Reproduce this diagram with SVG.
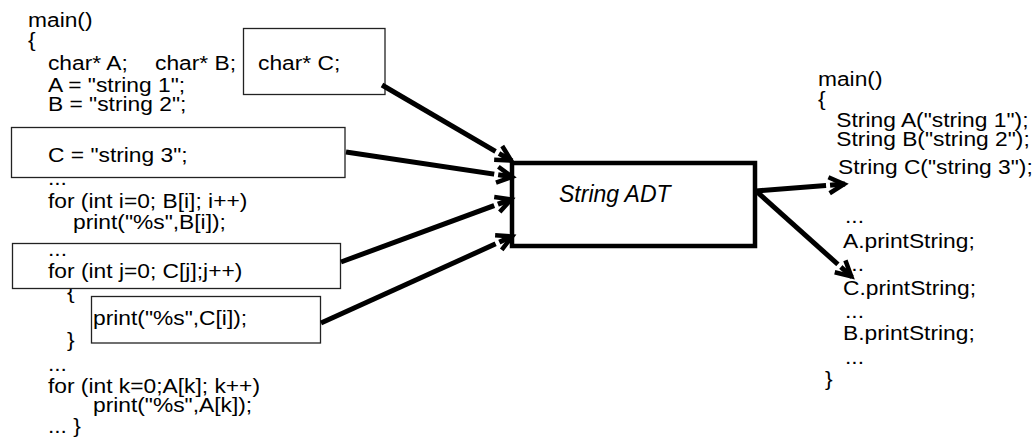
<svg xmlns="http://www.w3.org/2000/svg" width="1036" height="447" viewBox="0 0 1036 447">
<style>
.code{font-family:"Liberation Sans",Arial,Helvetica,sans-serif;font-size:21px;fill:#000}
.box{fill:#fff;stroke:#222;stroke-width:1.3}
.adt{fill:#fff;stroke:#000;stroke-width:4.5}
.title{font-family:"Liberation Sans",Arial,Helvetica,sans-serif;font-size:23px;font-style:italic;fill:#000}
.conn{stroke:#000;stroke-width:5;fill:none;marker-end:url(#arr)}
</style>
<defs>
<marker id="arr" viewBox="0 0 26 24" refX="21" refY="12" markerWidth="26" markerHeight="24" orient="auto" markerUnits="userSpaceOnUse" overflow="visible">
<line x1="2" y1="12" x2="6" y2="12" stroke="#fff" stroke-width="6.5"/>
<path d="M5,4 L20,12 L5,20" fill="none" stroke="#000" stroke-width="4.5"/>
</marker>
</defs>
<rect width="1036" height="447" fill="#fff"/>
<g id="main-c">
<g transform="scale(1.085,1)" class="code">
<text x="25.8" y="27">main()</text>
<text x="25.8" y="47">{</text>
<text x="44.2" y="70">char* A;</text>
<text x="142.9" y="70">char* B;</text>
<text x="44.2" y="92">A = "string 1";</text>
<text x="44.2" y="111">B = "string 2";</text>
<text x="44.2" y="185">...</text>
<text x="44.2" y="208">for (int i=0; B[i]; i++)</text>
<text x="67.3" y="229">print("%s",B[i]);</text>
<text x="61.8" y="299">{</text>
<text x="61.8" y="347">}</text>
<text x="44.2" y="371">...</text>
<text x="44.2" y="393">for (int k=0;A[k]; k++)</text>
<text x="85.7" y="412">print("%s",A[k]);</text>
<text x="44.2" y="433">... }</text>
</g>
</g>
<g id="decl-c">
<rect class="box" x="243.5" y="28.5" width="141.5" height="66"/>
<text class="code" transform="translate(258,70) scale(1.085,1)">char* C;</text>
</g>
<g id="assign-c">
<rect class="box" x="11.5" y="127.5" width="333.5" height="50"/>
<text class="code" transform="translate(48,162) scale(1.085,1)">C = "string 3";</text>
</g>
<g id="loop-c">
<rect class="box" x="12.5" y="243.5" width="328" height="45"/>
<text class="code" transform="translate(48,256) scale(1.085,1)">...</text>
<text class="code" transform="translate(48,278) scale(1.085,1)">for (int j=0; C[j];j++)</text>
</g>
<g id="print-c">
<rect class="box" x="91.5" y="296.5" width="229" height="46.5"/>
<text class="code" transform="translate(93,325) scale(1.085,1)">print("%s",C[i]);</text>
</g>
<g id="string-adt">
<rect class="adt" x="512" y="163" width="243" height="83"/>
<text class="title" x="559" y="202">String ADT</text>
</g>
<g id="main-cpp">
<g transform="scale(1.085,1)" class="code">
<text x="753.9" y="86">main()</text>
<text x="753.9" y="106">{</text>
<text x="770.8" y="127.5">String A("string 1");</text>
<text x="770.8" y="146">String B("string 2");</text>
<text x="772.4" y="174">String C("string 3");</text>
<text x="778.8" y="223">...</text>
<text x="777" y="248">A.printString;</text>
<text x="778.8" y="271">...</text>
<text x="777" y="295">C.printString;</text>
<text x="778.8" y="318">...</text>
<text x="777" y="340">B.printString;</text>
<text x="778.8" y="364">...</text>
<text x="760.4" y="386">}</text>
</g>
</g>
<g id="connectors">
<line class="conn" x1="382" y1="85" x2="512" y2="161"/>
<line class="conn" x1="346" y1="152" x2="513" y2="177"/>
<line class="conn" x1="341" y1="262" x2="512" y2="199"/>
<line class="conn" x1="321" y1="323" x2="513" y2="236"/>
<line class="conn" x1="756" y1="191" x2="845" y2="184"/>
<line class="conn" x1="756" y1="191" x2="852" y2="277"/>
</g>
</svg>
